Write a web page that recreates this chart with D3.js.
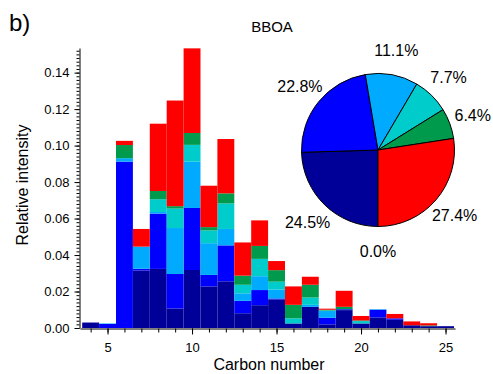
<!DOCTYPE html>
<html>
<head>
<meta charset="utf-8">
<script src="https://cdn.jsdelivr.net/npm/d3@7"></script>
<style>
  body { margin: 0; background: #fff; }
  text { font-family: "Liberation Sans", Arial, sans-serif; fill: #000; }
</style>
</head>
<body>
<div id="chart"></div>
<script>
// carbon numbers on the x axis
const carbon = [4, 5, 6, 7, 8, 9, 10, 11, 12, 13, 14, 15, 16, 17, 18, 19, 20, 21, 22, 23, 24, 25];

// stacked contributions (bottom to top)
const navy  = [0.003, 0, 0, 0.0315, 0.0324, 0.0107, 0.0318, 0.0228, 0.0256, 0.0081, 0.0125, 0.0157, 0.0025, 0.0116, 0.002, 0.0098, 0.0025, 0.0058, 0.0045, 0.0015, 0.001, 0.001];
const blue  = [0, 0.0022, 0.0912, 0.001, 0.0303, 0.0189, 0.034, 0.0063, 0.0197, 0.0068, 0.0083, 0.0005, 0, 0, 0.0036, 0.0005, 0, 0.0042, 0.0008, 0, 0, 0];
const sky   = [0, 0.0003, 0.0019, 0.0121, 0.0009, 0.0252, 0.0254, 0.0174, 0.009, 0.0041, 0.0076, 0.0049, 0, 0.0011, 0.0037, 0, 0, 0.0003, 0, 0, 0, 0];
const cyan  = [0, 0, 0, 0, 0.007, 0.0107, 0.0092, 0.007, 0.014, 0.0047, 0.0095, 0.0043, 0.0028, 0.004, 0.0003, 0, 0.0013, 0, 0, 0, 0, 0];
const green = [0, 0, 0.0072, 0, 0.0045, 0.0013, 0.0065, 0.0018, 0.0055, 0.005, 0.0071, 0.0063, 0.0074, 0.007, 0.0004, 0.0013, 0.0003, 0, 0, 0, 0.0004, 0];
const red   = [0, 0, 0.0023, 0.0097, 0.0369, 0.0579, 0.0464, 0.0227, 0.0298, 0.0182, 0.014, 0.005, 0.0101, 0.0044, 0.0006, 0.0088, 0.0025, 0, 0.0024, 0.0021, 0.0012, 0];

// pie shares (%), clockwise from the bottom
const pieKeys   = ["other", "navy", "blue", "sky", "cyan", "green", "red"];
const pieShares = [0.0, 24.5, 22.8, 11.1, 7.7, 6.4, 27.4];

const yTicks = [0, 0.02, 0.04, 0.06, 0.08, 0.10, 0.12, 0.14];
const xMajor = [5, 10, 15, 20, 25];

const keys = ["navy", "blue", "sky", "cyan", "green", "red"];
const colors = {
  navy: "#000099", blue: "#0000ff", sky: "#00aaff",
  cyan: "#00cccc", green: "#009a4c", red: "#ff0000", other: "#cccccc"
};

const width = 493, height = 374;
const svg = d3.select("#chart")
  .append("svg")
  .attr("width", width)
  .attr("height", height);

const x = d3.scaleLinear().domain([3.37, 25.56]).range([80, 455]);
const y = d3.scaleLinear().domain([0, 0.1535]).range([328, 48]);

const series = { navy, blue, sky, cyan, green, red };
const rows = carbon.map((c, i) => {
  const r = { c };
  keys.forEach(k => r[k] = series[k][i]);
  return r;
});
const stacked = d3.stack().keys(keys)(rows);

svg.append("g")
  .selectAll("g")
  .data(stacked)
  .join("g")
  .attr("fill", d => colors[d.key])
  .selectAll("rect")
  .data(d => d)
  .join("rect")
  .attr("x", d => x(d.data.c - 0.5))
  .attr("width", d => x(d.data.c + 0.5) - x(d.data.c - 0.5))
  .attr("y", d => y(d[1]))
  .attr("height", d => Math.max(0, y(d[0]) - y(d[1])));

// x axis: minor ticks, then major ticks with labels
svg.append("g")
  .attr("transform", "translate(0,328.5)")
  .call(d3.axisBottom(x).tickValues(carbon).tickSize(4).tickFormat(""))
  .call(g => g.select(".domain").remove());
svg.append("g")
  .attr("transform", "translate(0,328.5)")
  .call(d3.axisBottom(x).tickValues(xMajor).tickSize(6).tickPadding(8).tickSizeOuter(0))
  .call(g => g.selectAll("text").attr("font-size", 13).attr("font-family", null));

// y axis: minor ticks every 0.002
svg.append("g")
  .attr("transform", "translate(79.5,0)")
  .call(d3.axisLeft(y).tickValues(d3.range(0, 0.153, 0.002)).tickSize(3).tickFormat(""))
  .call(g => g.select(".domain").remove());
svg.append("g")
  .attr("transform", "translate(79.5,0)")
  .call(d3.axisLeft(y).tickValues(yTicks).tickSize(5).tickPadding(5).tickSizeOuter(0).tickFormat(d3.format(".2f")))
  .call(g => g.selectAll("text").attr("font-size", 13).attr("font-family", null));

svg.selectAll(".tick line").attr("stroke", "#000");
svg.selectAll(".domain").attr("stroke", "#000");

svg.append("text")
  .attr("x", 269)
  .attr("y", 370)
  .attr("text-anchor", "middle")
  .attr("font-size", 16)
  .text("Carbon number");

svg.append("text")
  .attr("transform", "translate(28,185) rotate(-90)")
  .attr("text-anchor", "middle")
  .attr("font-size", 16)
  .text("Relative intensity");

svg.append("text")
  .attr("x", 9)
  .attr("y", 31)
  .attr("font-size", 24)
  .text("b)");

svg.append("text")
  .attr("x", 272)
  .attr("y", 32)
  .attr("text-anchor", "middle")
  .attr("font-size", 15)
  .text("BBOA");

// pie
const pieData = pieKeys.map((k, i) => ({ key: k, value: pieShares[i] }));
const pie = d3.pie().value(d => d.value).sort(null)
  .startAngle(Math.PI).endAngle(3 * Math.PI);
const arcs = pie(pieData);
const radius = 76.5;
const arc = d3.arc().innerRadius(0).outerRadius(radius);
const labelArc = d3.arc().innerRadius(101).outerRadius(101);

const pg = svg.append("g").attr("transform", "translate(378,150)");
pg.selectAll("path")
  .data(arcs.filter(d => d.value > 0))
  .join("path")
  .attr("d", arc)
  .attr("fill", d => colors[d.data.key])
  .attr("stroke", "#000")
  .attr("stroke-width", 1);

pg.selectAll("text")
  .data(arcs)
  .join("text")
  .attr("transform", d => `translate(${labelArc.centroid(d)})`)
  .attr("text-anchor", "middle")
  .attr("dy", "0.35em")
  .attr("font-size", 16)
  .text(d => d.data.value.toFixed(1) + "%");
</script>
</body>
</html>
